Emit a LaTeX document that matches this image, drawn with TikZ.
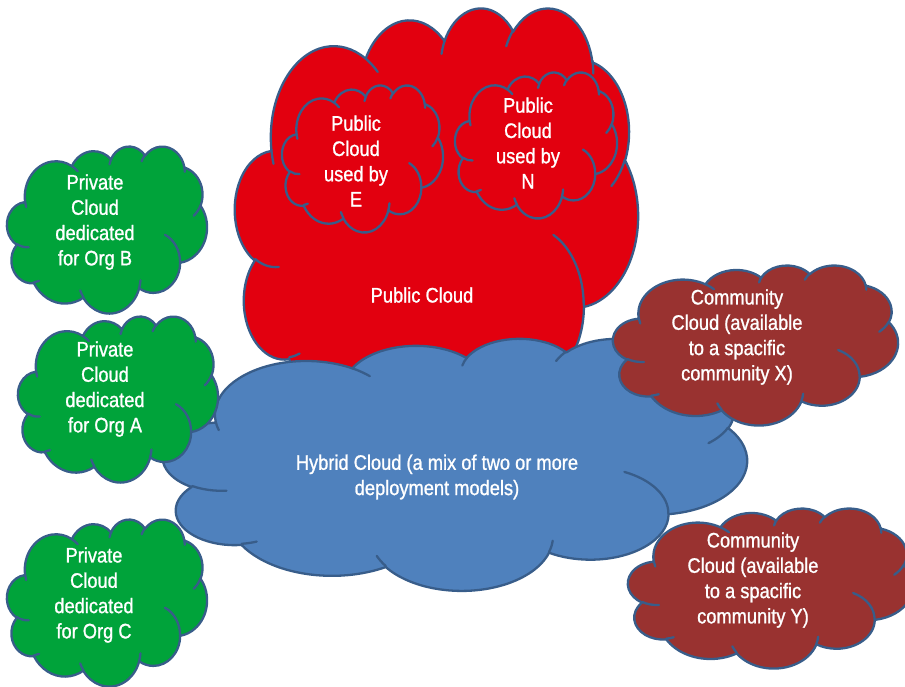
\documentclass[tikz,border=0pt]{standalone}
\usepackage{fontspec}
\newfontfamily\cf{Liberation Sans}[FakeStretch=0.87,FakeBold=1]
\definecolor{cred}{RGB}{226,0,15}
\definecolor{cgreen}{RGB}{0,163,58}
\definecolor{cblue}{RGB}{79,129,189}
\definecolor{cbrown}{RGB}{153,50,48}
\definecolor{coutl}{RGB}{56,93,138}
% arc of the cloud outline: name, x radius, y radius, start angle, sweep (degrees, y down)
\newcommand\defarc[5]{%
  \pgfmathsetmacro\tmpA{#4}%
  \pgfmathsetmacro\tmpB{#4+#5}%
  \pgfmathsetmacro\tmpS{atan2(#2*sin(\tmpA),#3*cos(\tmpA))}%
  \pgfmathsetmacro\tmpE{atan2(#2*sin(\tmpB),#3*cos(\tmpB))}%
  \pgfmathsetmacro\tmpE{\tmpE+360*round((\tmpS+#5-\tmpE)/360)}%
  \pgfmathsetmacro\tmpS{-\tmpS}%
  \pgfmathsetmacro\tmpE{-\tmpE}%
  \expandafter\xdef\csname cloudarc#1\endcsname{arc[start angle=\tmpS, end angle=\tmpE, x radius=#2, y radius=#3]}%
}
\defarc{a}{67.53}{91.90}{-190.48748}{123.78053}
\defarc{b}{53.33}{72.67}{-144.10238}{89.94523}
\defarc{c}{43.65}{59.45}{-145.80792}{99.72302}
\defarc{d}{48.57}{65.95}{-130.98607}{117.24173}
\defarc{e}{53.33}{72.73}{-78.70888}{109.02692}
\defarc{f}{67.75}{92.20}{-46.26725}{130.269}
\defarc{g}{57.85}{78.67}{0.62502}{114.03333}
\defarc{h}{67.52}{92.15}{22.4516}{115.17255}
\defarc{i}{77.20}{105.43}{66.24263}{75.71102}
\defarc{j}{43.60}{59.18}{-274.94208}{146.73557}
\defarc{k}{43.45}{59.45}{-246.8285}{152.51885}
\defarc{l}{43.45}{59.45}{86.742}{26.4295}
\defarc{m}{43.60}{59.18}{73.61047}{11.44747}
\defarc{n}{67.52}{92.15}{137.62415}{14.0811}
\defarc{o}{67.52}{92.15}{6.45327}{15.99835}
\defarc{p}{57.85}{78.67}{-70.29235}{70.91737}
\defarc{q}{53.33}{72.73}{30.31803}{27.7515}
\defarc{r}{48.57}{65.95}{-13.74433}{14.8589}
\defarc{s}{48.57}{65.95}{-149.18145}{18.19537}
\defarc{t}{43.65}{59.45}{-163.49427}{17.68635}
\defarc{u}{67.53}{91.90}{-66.70695}{12.31935}
\defarc{v}{67.53}{91.90}{157.65435}{11.85817}
% cloud: left, top, width, height (px, y down), fill colour
\newcommand\pcloud[5]{%
  \begin{scope}[shift={(#1,-#2)}, xscale=#3/432, yscale=#4/432]
    \path[cl, fill=#5] (39,-143.7) \cloudarca \cloudarcb \cloudarcc \cloudarcd
      \cloudarce \cloudarcf \cloudarcg \cloudarch \cloudarci \cloudarcj \cloudarck -- cycle;
    \path[cl] (46.93,-261.77) \cloudarcl (69.28,-348.99) \cloudarcm
      (164.78,-390.90) \cloudarcn (288.27,-347.51) \cloudarco
      (341.29,-229.54) \cloudarcp (417.98,-153.54) \cloudarcq
      (383.24,-54.26) \cloudarcr (290.78,-39.52) \cloudarcs
      (221.41,-47.20) \cloudarct (140.00,-51.92) \cloudarcu
      (41.27,-157.89) \cloudarcv;
  \end{scope}}
\begin{document}
\begin{tikzpicture}[x=1pt,y=1pt,
  cl/.style={draw=coutl, line width=2.3pt, line join=round, line cap=round},
  lbl/.style={text=white, align=center, inner sep=0pt,
    font=\cf\fontsize{21}{25.3}\selectfont}]
\useasboundingbox (0,0) rectangle (905,-687);
\pcloud{235}{7}{403}{429}{cred}
\pcloud{282}{85}{161}{147}{cred}
\pcloud{455}{72}{162}{146}{cred}
\pcloud{163}{338}{584}{252}{cblue}
\pcloud{7}{146}{200}{167}{cgreen}
\pcloud{18}{316}{200}{166}{cgreen}
\pcloud{7}{519}{200}{167}{cgreen}
\pcloud{613}{265}{285}{160}{cbrown}
\pcloud{628}{508}{285}{160}{cbrown}
\node[lbl] (pub) at (422,-295) {Public Cloud};
\node[lbl] (pube) at (356,-161) {Public\\Cloud\\used by\\E};
\node[lbl] (pubn) at (528,-143) {Public\\Cloud\\used by\\N};
\node[lbl] (hyb) at (437,-477) {Hybrid Cloud (a mix of two or more\\deployment models)};
\node[lbl] (privb) at (95,-222) {Private\\Cloud\\dedicated\\for Org B};
\node[lbl] (priva) at (105,-389) {Private\\Cloud\\dedicated\\for Org A};
\node[lbl] (privc) at (94,-595) {Private\\Cloud\\dedicated\\for Org C};
\node[lbl] (comx) at (737,-337) {Community\\Cloud (available\\to a spacific\\community X)};
\node[lbl] (comy) at (753,-580) {Community\\Cloud (available\\to a spacific\\community Y)};
\end{tikzpicture}
\end{document}
